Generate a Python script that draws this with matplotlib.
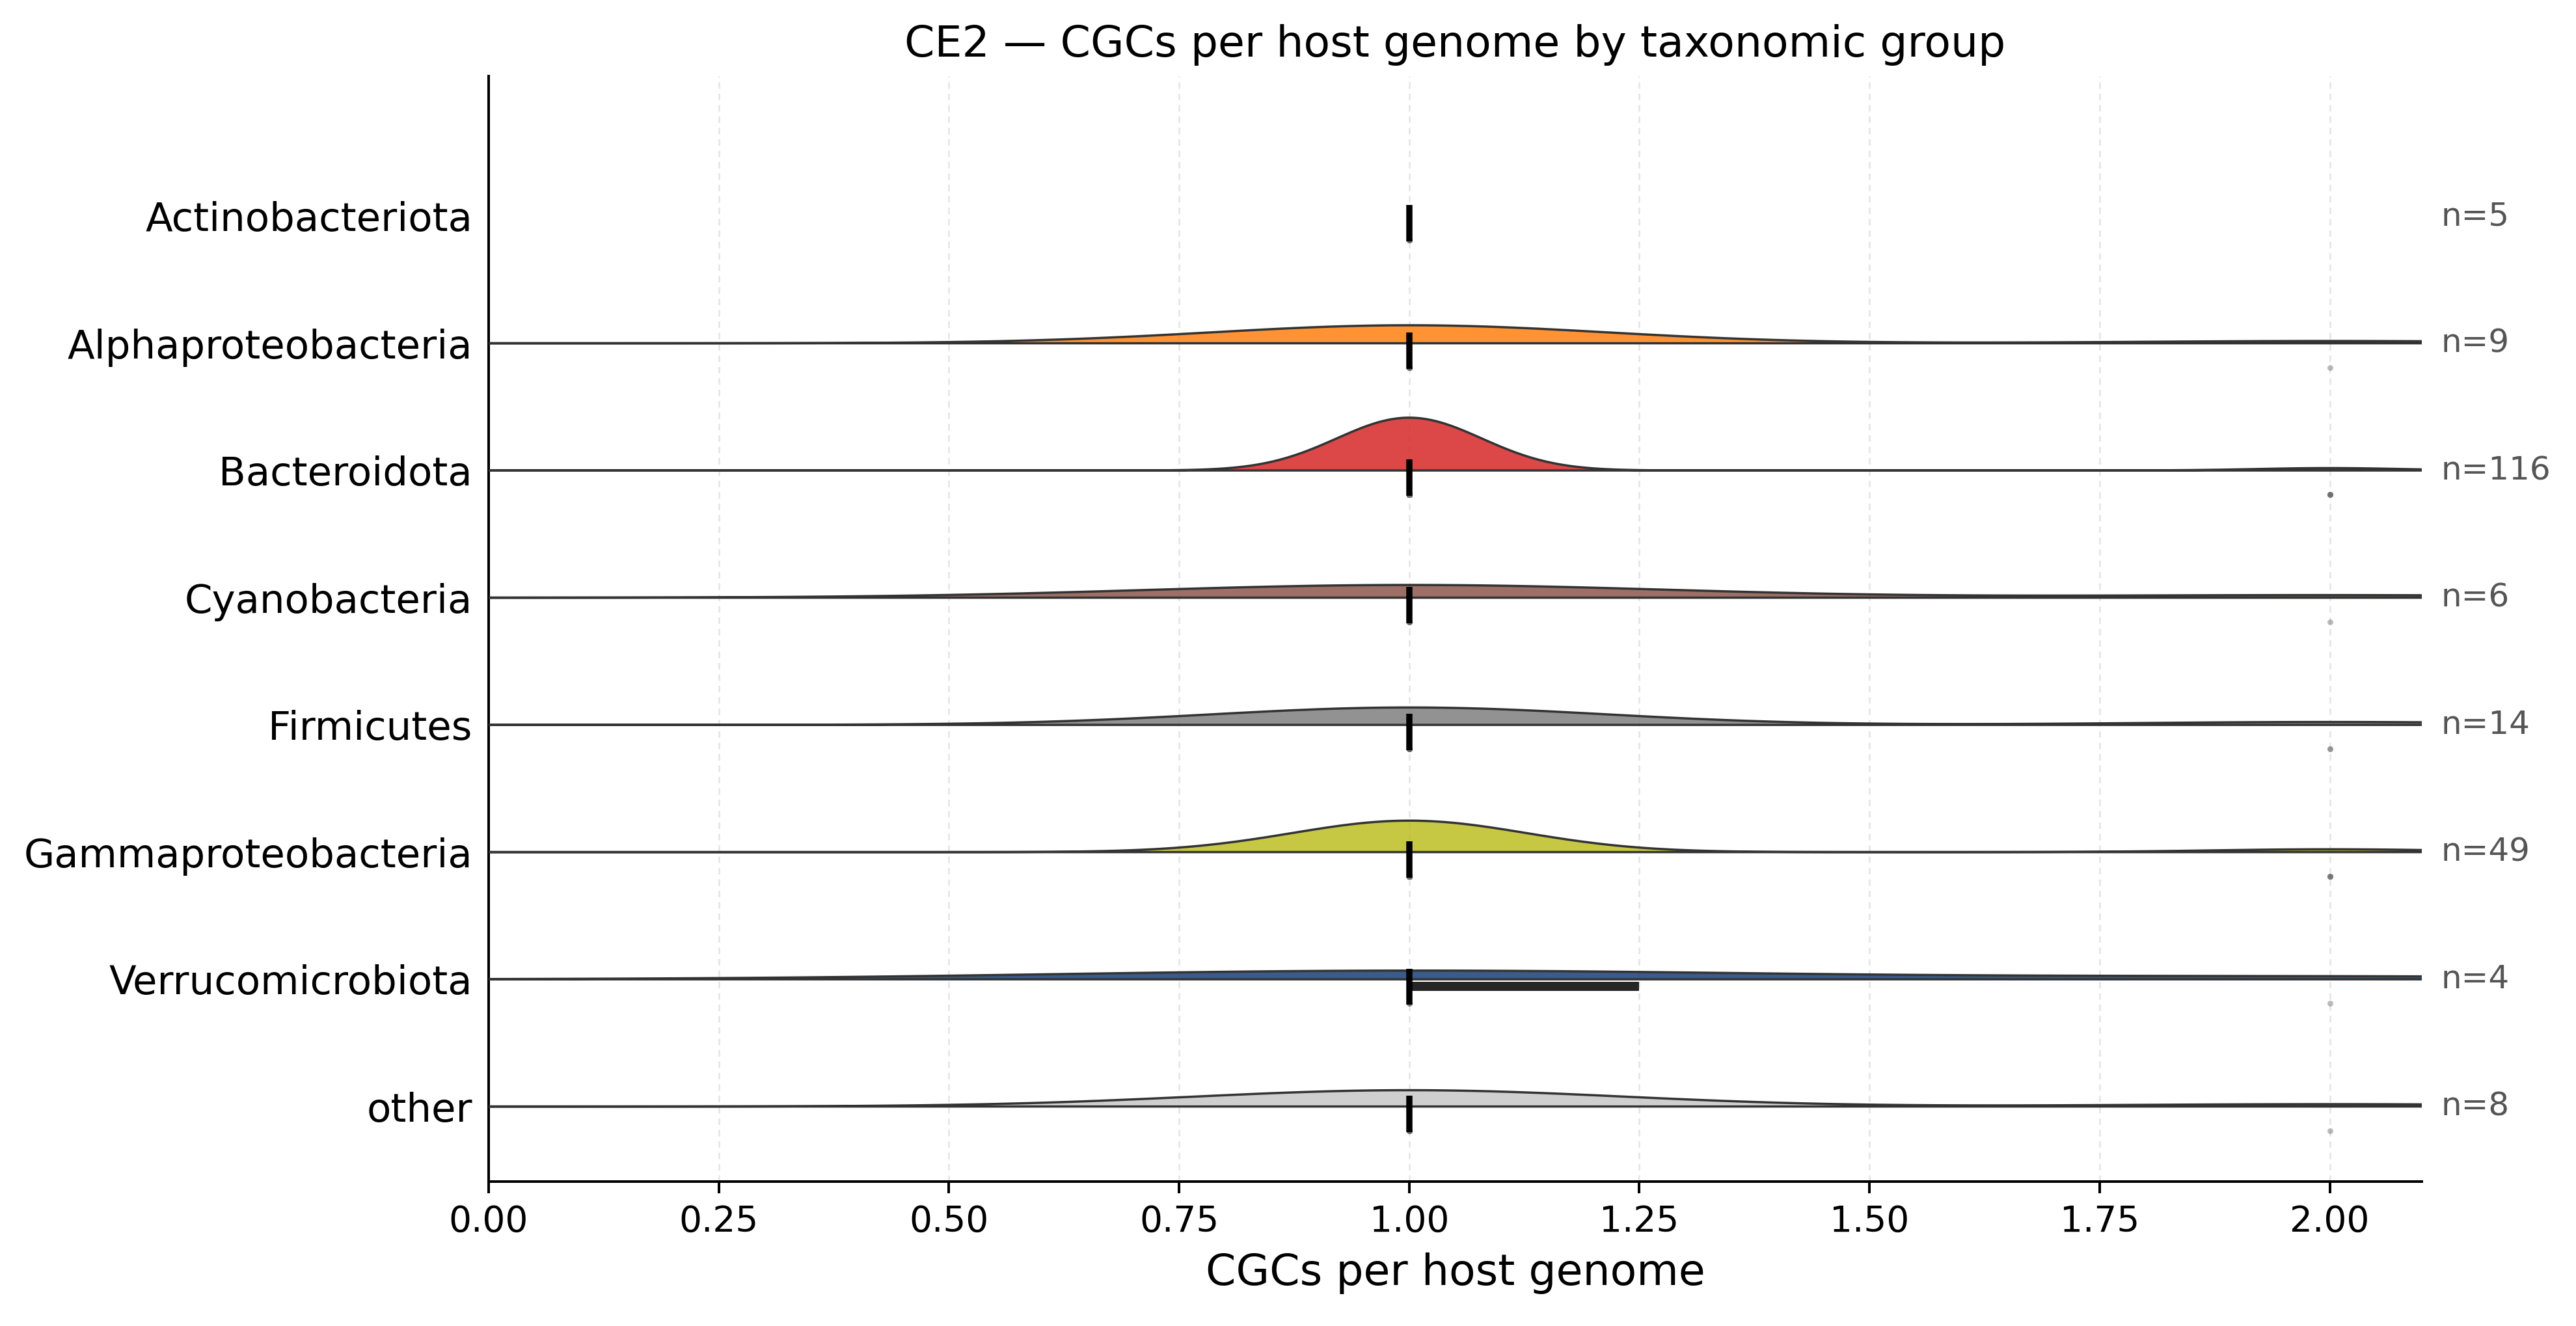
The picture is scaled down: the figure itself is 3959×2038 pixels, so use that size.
import numpy as np
import matplotlib
matplotlib.use("Agg")
import matplotlib.pyplot as plt
from matplotlib.patches import Rectangle
from matplotlib.transforms import blended_transform_factory

# ---- data ----
groups = ["Actinobacteriota", "Alphaproteobacteria", "Bacteroidota", "Cyanobacteria",
          "Firmicutes", "Gammaproteobacteria", "Verrucomicrobiota", "other"]
genomes_with_1_cgc = [5, 8, 111, 5, 12, 45, 3, 7]
genomes_with_2_cgc = [0, 1, 5, 1, 2, 4, 1, 1]
colors = ["#1f77b4", "#ff7f0e", "#d62728", "#8c564b",
          "#7f7f7f", "#bcbd22", "#193e76", "#c7c7c7"]

title = "CE2 \u2014 CGCs per host genome by taxonomic group"
xlabel = "CGCs per host genome"
xticks = [0.0, 0.25, 0.5, 0.75, 1.0, 1.25, 1.5, 1.75, 2.0]

# ---- figure ----
W, H, DPI = 3959, 2038, 360
fig = plt.figure(figsize=(W / DPI, H / DPI), dpi=DPI)
ax = fig.add_axes([751 / W, 1 - 1816 / H, (3722 - 751) / W, (1816 - 117) / H])

values = [np.repeat([1.0, 2.0], [a, b]) for a, b in zip(genomes_with_1_cgc, genomes_with_2_cgc)]

grid = np.linspace(-0.3, 2.4, 900)


def kde(v, x):
    v = np.asarray(v, float)
    if len(v) < 2 or np.std(v) == 0:
        return None
    bw = np.std(v, ddof=1) * len(v) ** (-1 / 5)
    z = (x[:, None] - v[None, :]) / bw
    return np.exp(-0.5 * z ** 2).sum(axis=1) / (len(v) * bw * np.sqrt(2 * np.pi))


dens = [kde(v, grid) for v in values]
gmax = max(d.max() for d in dens if d is not None)
MAX_H = 0.415

for i, (v, d, c) in enumerate(zip(values, dens, colors)):
    if d is not None:
        h = d / gmax * MAX_H
        ax.fill_between(grid, i, i - h, facecolor=c, alpha=0.85,
                        edgecolor="none", zorder=2)
        ax.fill_between(grid, i, i - h, facecolor="none",
                        edgecolor="#333333", linewidth=0.7, zorder=3)
    # points
    ax.scatter(v, np.full(len(v), i + 0.19), s=3.2, color="#6b6b6b",
               alpha=0.45, linewidths=0, zorder=3)
    q1, med, q3 = np.percentile(v, [25, 50, 75])
    if q3 > q1:
        ax.add_patch(Rectangle((q1, i + 0.022), q3 - q1, 0.068,
                               facecolor="#262626", edgecolor="none", zorder=4))
    ax.plot([med, med], [i - 0.085, i + 0.2], color="black", lw=1.9,
            solid_capstyle="butt", zorder=5)

trans = blended_transform_factory(ax.transAxes, ax.transData)
for i, v in enumerate(values):
    ax.text(1.01, i, f"n={len(v)}", transform=trans, ha="left", va="center",
            fontsize=10, color="#555555")

ax.set_xlim(0, 2.1)
ax.set_ylim(7.59, -1.1)
ax.set_yticks(range(len(groups)))
ax.set_yticklabels(groups, fontsize=12.2)
ax.set_xticks(xticks)
ax.set_xticklabels([f"{t:.2f}" for t in xticks], fontsize=11)
ax.tick_params(axis="y", length=0, pad=5)
ax.tick_params(axis="x", length=3.5, width=0.8)
ax.set_xlabel(xlabel, fontsize=13.3)
ax.set_title(title, fontsize=13.3)
ax.grid(axis="x", linestyle=(0, (4, 3)), color="#e4e4e4", linewidth=0.5)
ax.set_axisbelow(True)
for s in ["top", "right"]:
    ax.spines[s].set_visible(False)
for s in ["left", "bottom"]:
    ax.spines[s].set_linewidth(0.8)

fig.savefig("out.png", dpi=DPI)
